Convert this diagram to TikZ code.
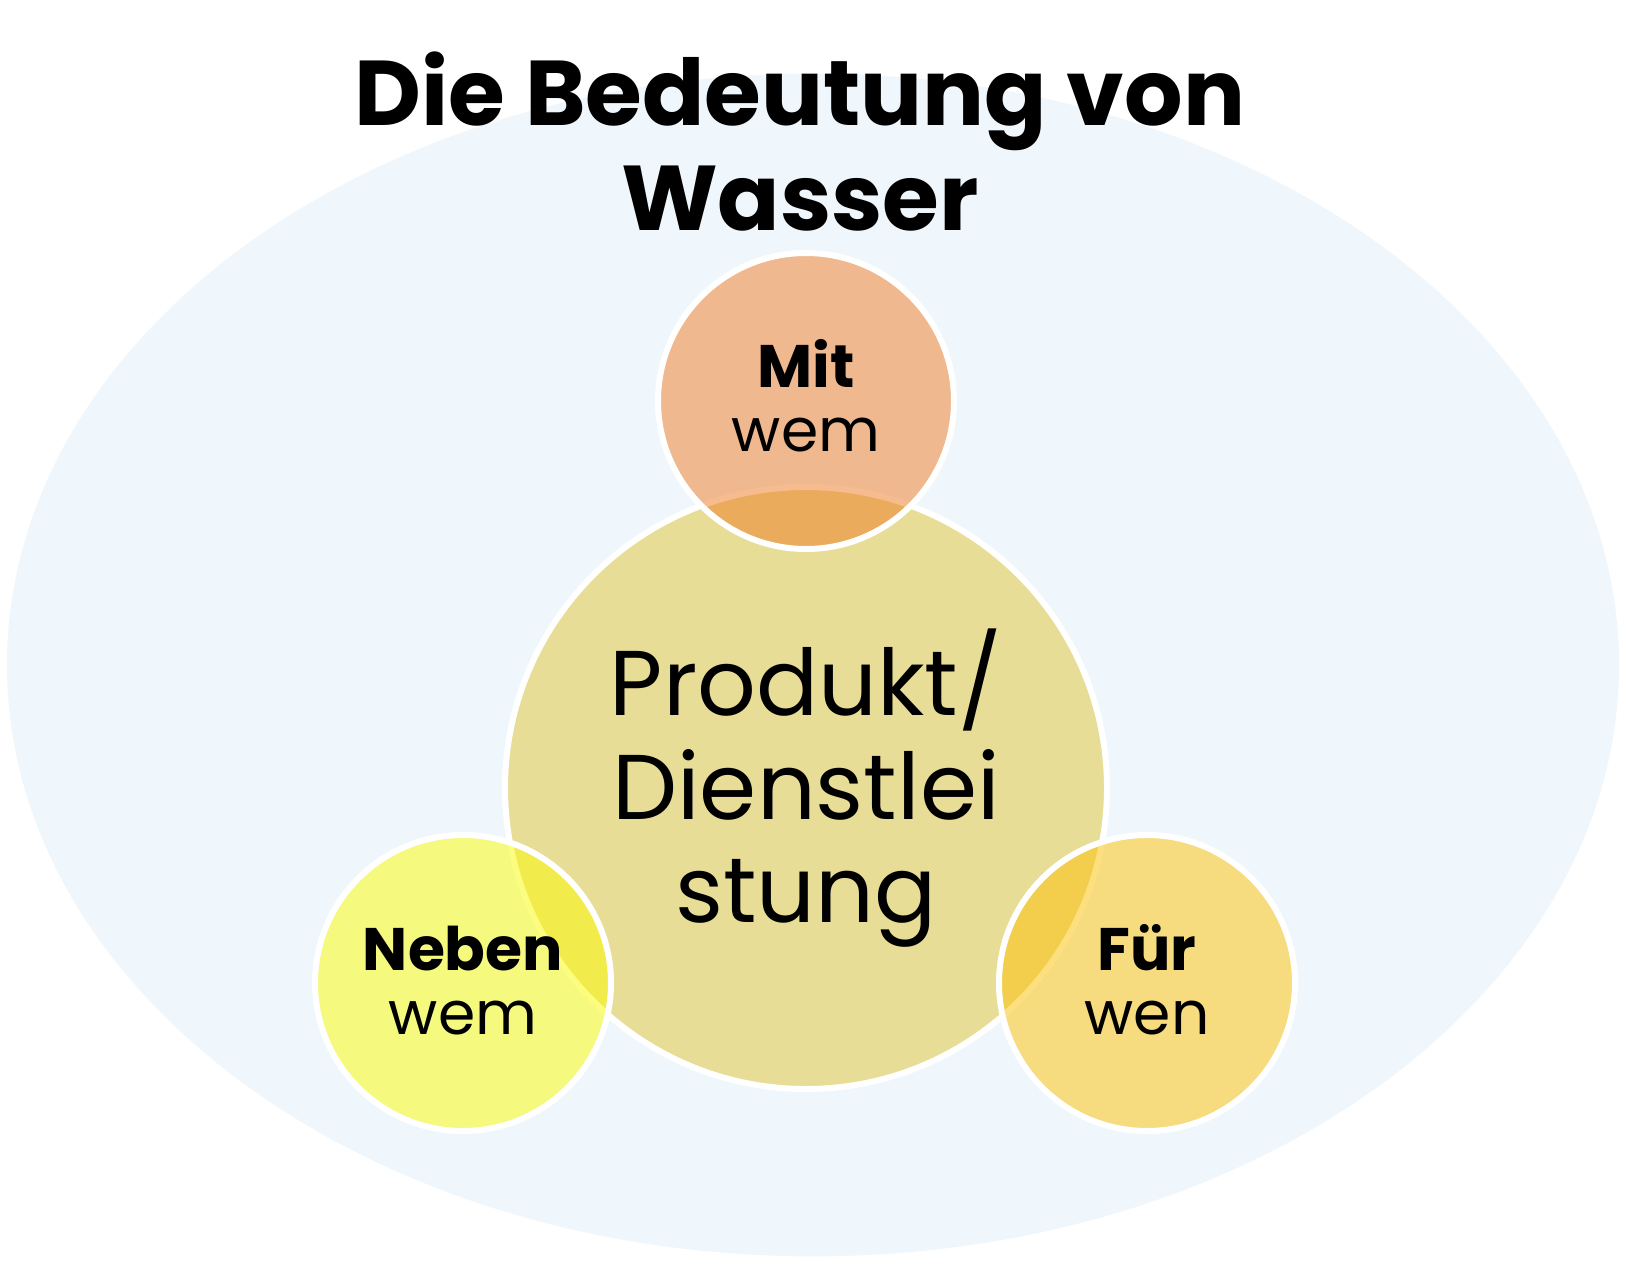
\documentclass[tikz,border=0pt]{standalone}
\usepackage{fontspec}
\usetikzlibrary{shapes.geometric}
\setmainfont{Poppins}
\definecolor{bgblue}{RGB}{239,247,253}
\definecolor{bigfill}{RGB}{232,221,151}
\definecolor{topfill}{RGB}{239,123,35}
\definecolor{leftfill}{RGB}{251,251,0}
\definecolor{rightfill}{RGB}{253,193,3}
\begin{document}
\begin{tikzpicture}[x=0.75pt,y=-0.75pt,
  ringed/.style={circle,draw=white,line width=4.5pt,inner sep=0pt},
  smallc/.style={ringed,minimum size=222pt,fill opacity=0.5,draw opacity=1},
  lbl/.style={anchor=base,inner sep=0pt,text=black},
  titlefont/.style={font=\fontsize{69}{75}\selectfont\bfseries},
  bigfont/.style={font=\fontsize{69}{75}\selectfont},
  boldfont/.style={font=\fontsize{45}{50}\selectfont\bfseries},
  lightfont/.style={font=\fontsize{45}{50}\selectfont}]
\useasboundingbox (0,0) rectangle (1626,1266);
\fill[white] (0,0) rectangle (1626,1266);
\node[ellipse,fill=bgblue,minimum width=1209pt,minimum height=887pt,inner sep=0pt] (bg) at (813,665) {};
\node[ringed,fill=bigfill,minimum size=451.5pt] (big) at (806,788) {};
\node[smallc,fill=topfill] (top) at (806,401) {};
\node[smallc,fill=leftfill] (left) at (463,983) {};
\node[smallc,fill=rightfill] (right) at (1147,983) {};
\node[lbl,titlefont] (t1) at (800,126) {Die Bedeutung von};
\node[lbl,titlefont] (t2) at (800,230) {Wasser};
\node[lbl,bigfont] (p1) at (806,715) {Produkt/};
\node[lbl,bigfont] (p2) at (806,819) {Dienstlei};
\node[lbl,bigfont] (p3) at (806,922) {stung};
\node[lbl,boldfont] (m1) at (806,387) {Mit};
\node[lbl,lightfont] (m2) at (806,451) {wem};
\node[lbl,boldfont] (n1) at (463,970) {Neben};
\node[lbl,lightfont] (n2) at (463,1034) {wem};
\node[lbl,boldfont] (f1) at (1147,970) {Für};
\node[lbl,lightfont] (f2) at (1147,1034) {wen};
\end{tikzpicture}
\end{document}
